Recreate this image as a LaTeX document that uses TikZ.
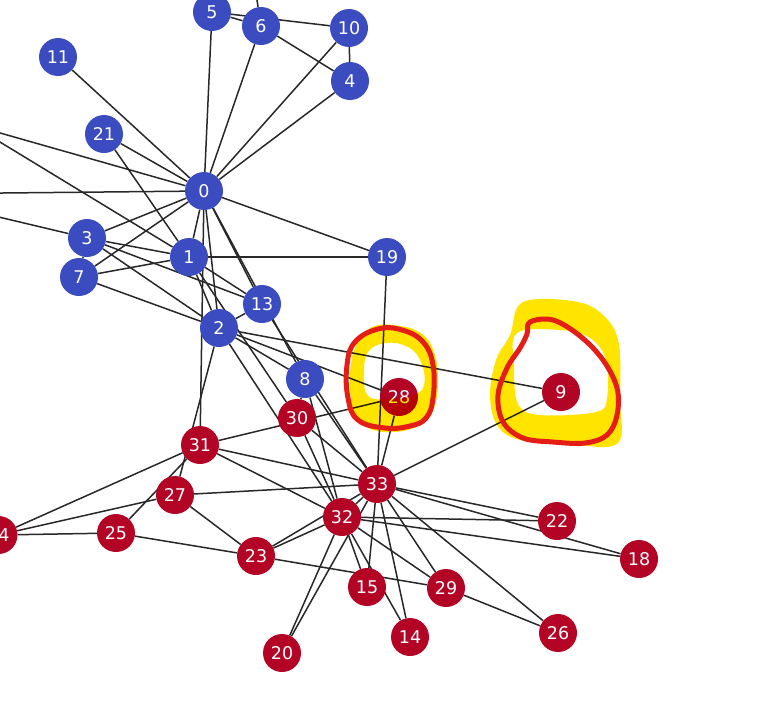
\documentclass[tikz,border=0pt]{standalone}
\usepackage{fontspec}
\newfontfamily\dv{DejaVu Sans}
\pgfdeclarelayer{background}
\pgfsetlayers{background,main}
\definecolor{nblue}{RGB}{59,76,192}
\definecolor{nred}{RGB}{180,4,38}
\definecolor{edgec}{RGB}{40,40,40}
\definecolor{hilite}{RGB}{255,228,0}
\definecolor{penred}{RGB}{228,30,22}
\tikzset{
  vtx/.style={circle, minimum size=38pt, inner sep=0pt, text=white, font=\dv\fontsize{17.5}{17.5}\selectfont},
  bn/.style={vtx, fill=nblue},
  rn/.style={vtx, fill=nred},
  edge/.style={draw=edgec, line width=1.5pt},
  hl/.style={fill=hilite, even odd rule},
  pen/.style={draw=penred, line width=5pt, line join=round}
}
\begin{document}
\begin{tikzpicture}[x=1pt,y=-1pt]
\useasboundingbox (0,0) rectangle (775,718);
\clip (0,0) rectangle (775,718);
% nodes
\node[bn] (n0) at (204,191) {0};
\node[bn] (n1) at (189,257) {1};
\node[bn] (n2) at (219,328) {2};
\node[bn] (n3) at (87,238) {3};
\node[bn] (n4) at (350,81) {4};
\node[bn] (n5) at (212,12) {5};
\node[bn] (n6) at (261,26) {6};
\node[bn] (n7) at (79,277) {7};
\node[bn] (n8) at (305,379) {8};
\node[rn] (n9) at (561,392) {9};
\node[bn] (n10) at (349,28) {10};
\node[bn] (n11) at (58,57) {11};
\coordinate (n12) at (-98,194);
\node[bn] (n13) at (262,304) {13};
\node[rn] (n14) at (410,637) {14};
\node[rn] (n15) at (367,587) {15};
\coordinate (n16) at (250,-45);
\coordinate (n17) at (-28,125);
\node[rn] (n18) at (639,559) {18};
\node[bn] (n19) at (387,257) {19};
\node[rn] (n20) at (282,653) {20};
\node[bn] (n21) at (104,134) {21};
\node[rn] (n22) at (557,521) {22};
\node[rn] (n23) at (256,556) {23};
\node[rn] (n24) at (-1.5,535) {24};
\node[rn] (n25) at (116,533) {25};
\node[rn] (n26) at (558,633) {26};
\node[rn] (n27) at (175,495) {27};
\node[rn] (n28) at (399,397) {28};
\node[rn] (n29) at (446,588) {29};
\node[rn] (n30) at (297,418) {30};
\node[rn] (n31) at (200,445) {31};
\node[rn] (n32) at (342,517) {32};
\node[rn] (n33) at (377,484) {33};
% edges
\begin{pgfonlayer}{background}
\foreach \a/\b in {0/1,0/2,0/3,0/4,0/5,0/6,0/7,0/8,0/10,0/11,0/12,0/13,0/17,0/19,0/21,0/31,
  1/2,1/3,1/7,1/13,1/17,1/19,1/21,1/30,
  2/3,2/7,2/8,2/9,2/13,2/27,2/28,2/32,
  3/7,3/12,3/13,4/6,4/10,5/6,5/10,5/16,6/16,
  8/30,8/32,8/33,9/33,13/33,14/32,14/33,15/32,15/33,18/32,18/33,19/33,
  20/32,20/33,22/32,22/33,23/25,23/27,23/29,23/32,23/33,
  24/25,24/27,24/31,25/31,26/29,26/33,27/33,28/31,28/33,
  29/32,29/33,30/32,30/33,31/32,31/33,32/33}
  \draw[edge] (n\a) -- (n\b);
\end{pgfonlayer}
% highlighter
\begin{scope}[blend mode=multiply]
\path[hl] plot[smooth cycle, tension=0.7] coordinates {(372,327) (400,326) (422,334) (434,352) (438,380) (434,408) (422,424) (395,432) (368,428) (354,412) (350,380) (355,348)}
  plot[smooth cycle, tension=0.7] coordinates {(368,352) (386,343) (408,347) (421,362) (424,385) (412,396) (388,399) (368,396) (364,374)};
\path[hl] plot[smooth cycle, tension=0.6] coordinates {(523,302) (578,302) (606,318) (619,345) (620,400) (618,443) (575,445) (520,440) (497,425) (490,395) (496,360) (510,335)}
  plot[smooth cycle, tension=0.6] coordinates {(517,333) (560,330) (590,338) (606,360) (607,398) (596,412) (540,415) (518,404) (514,365)};
\end{scope}
% pen loops
\draw[pen] plot[smooth cycle, tension=0.7] coordinates {(378,329) (402,330) (423,342) (433,365) (433,398) (426,418) (410,426) (385,428) (358,420) (348,398) (347,365) (355,342)};
\draw[pen] plot[smooth cycle, tension=0.6] coordinates {(530,322) (553,320) (580,336) (603,360) (617,388) (617,415) (607,435) (585,443) (553,442) (523,438) (503,422) (498,395) (507,368) (520,348) (527,334)};
\end{tikzpicture}
\end{document}
